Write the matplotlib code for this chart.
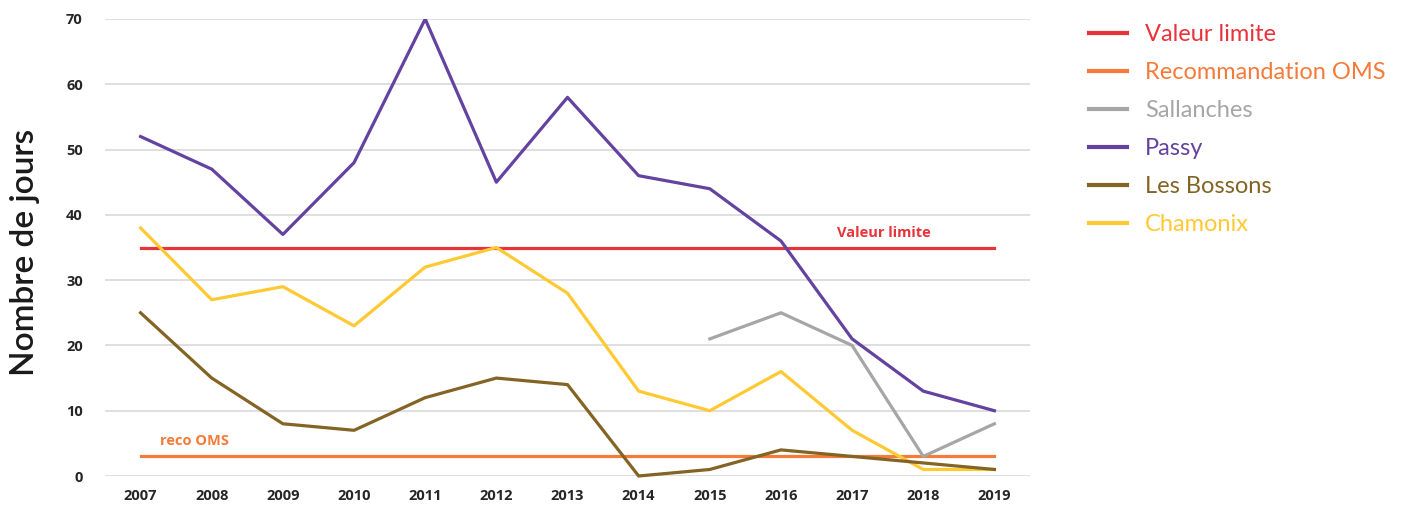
import matplotlib
matplotlib.use("Agg")
import matplotlib.pyplot as plt
from matplotlib.lines import Line2D

years = [2007, 2008, 2009, 2010, 2011, 2012, 2013, 2014, 2015, 2016, 2017, 2018, 2019]
passy = [52, 47, 37, 48, 70, 45, 58, 46, 44, 36, 21, 13, 10]
chamonix = [38, 27, 29, 23, 32, 35, 28, 13, 10, 16, 7, 1, 1]
bossons = [25, 15, 8, 7, 12, 15, 14, 0, 1, 4, 3, 2, 1]
sallanches_years = [2015, 2016, 2017, 2018, 2019]
sallanches = [21, 25, 20, 3, 8]
valeur_limite = 35
reco_oms = 3

c_limite = "#E8333A"
c_oms = "#F47B3A"
c_sall = "#A6A6A6"
c_passy = "#6443A0"
c_boss = "#836424"
c_cham = "#FFC933"

plt.rcParams['font.family'] = ['Lato', 'DejaVu Sans']

fig = plt.figure(figsize=(14.13, 5.07), dpi=100)
ax = fig.add_axes([105 / 1413, 1 - 476 / 507, 925 / 1413, 457 / 507])

lw = 2.3
ax.plot([years[0], years[-1]], [valeur_limite] * 2, color=c_limite, lw=lw, zorder=3)
ax.plot([years[0], years[-1]], [reco_oms] * 2, color=c_oms, lw=lw, zorder=3)
ax.plot(sallanches_years, sallanches, color=c_sall, lw=lw, zorder=4)
ax.plot(years, passy, color=c_passy, lw=lw, zorder=4)
ax.plot(years, bossons, color=c_boss, lw=lw, zorder=5, clip_on=False)
ax.plot(years, chamonix, color=c_cham, lw=lw, zorder=4, clip_on=False)

ax.text(2017.45, valeur_limite + 1.2, "Valeur limite", color=c_limite, fontsize=10.5,
        fontweight="bold", ha="center", va="bottom", family=["Open Sans", "DejaVu Sans"])
ax.text(2007.75, reco_oms + 1.3, "reco OMS", color=c_oms, fontsize=10.5,
        fontweight="bold", ha="center", va="bottom", family=["Open Sans", "DejaVu Sans"])

ax.set_xlim(2006.5, 2019.5)
ax.set_ylim(0, 70)
ax.set_xticks(years)
ax.set_yticks(range(0, 71, 10))
ax.grid(axis="y", color="#D9D9D9", lw=1.2)
ax.set_axisbelow(True)
for s in ax.spines.values():
    s.set_visible(False)
ax.tick_params(length=0, labelsize=10.5, labelcolor="#262626")
ax.tick_params(axis="y", pad=16)
ax.tick_params(axis="x", pad=9)
for lab in ax.get_xticklabels() + ax.get_yticklabels():
    lab.set_fontweight("bold")
    lab.set_family(["Open Sans", "DejaVu Sans"])

fig.text(25 / 1413, 1 - 252 / 507, "Nombre de jours", rotation=90, fontsize=24,
         color="#1a1a1a", ha="center", va="center", fontweight="semibold")

handles = [Line2D([], [], color=c, lw=3) for c in [c_limite, c_oms, c_sall, c_passy, c_boss, c_cham]]
labels = ["Valeur limite", "Recommandation OMS", "Sallanches", "Passy", "Les Bossons", "Chamonix"]
fig.legend(handles, labels, loc="upper left", bbox_to_anchor=(1080 / 1413, 1 - 15 / 507),
           frameon=False, labelcolor="linecolor", fontsize=17, handlelength=1.6,
           handletextpad=0.75, labelspacing=0.72, borderaxespad=0)

fig.savefig("out.png", dpi=100)
